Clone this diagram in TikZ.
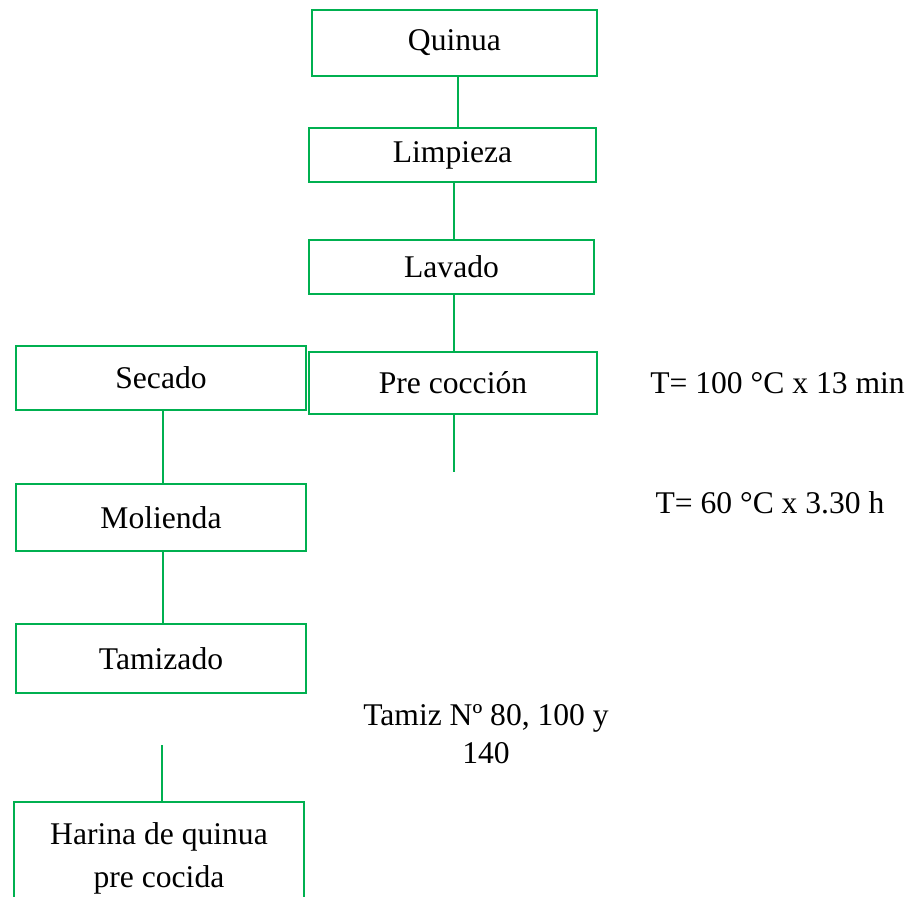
\documentclass[tikz,border=0pt]{standalone}
\usepackage{fontspec}
\setmainfont{Liberation Serif}
\definecolor{boxgreen}{HTML}{00B050}
\begin{document}
\begin{tikzpicture}[x=0.5pt,y=-0.5pt,
  stepbox/.style={draw=boxgreen,line width=1pt,rectangle,inner sep=0pt,
    font=\fontsize{15.8pt}{21.5pt}\selectfont,align=center},
  conn/.style={draw=boxgreen,line width=1pt},
  note/.style={font=\fontsize{15.8pt}{19pt}\selectfont,align=center,inner sep=0pt}]
\useasboundingbox (0,0) rectangle (921,897);
\node[stepbox,minimum width=142.5pt,minimum height=33pt] (q) at (454.5,43) {Quinua};
\node[stepbox,minimum width=143.5pt,minimum height=27pt] (l) at (452.5,155) {Limpieza};
\node[stepbox,minimum width=142.5pt,minimum height=27pt] (v) at (451.5,267) {Lavado};
\node[stepbox,minimum width=144pt,minimum height=31pt] (p) at (453,383) {Pre cocción};
\node[stepbox,minimum width=145pt,minimum height=32pt] (s) at (161,378) {Secado};
\node[stepbox,minimum width=145pt,minimum height=33.5pt] (m) at (161,517.5) {Molienda};
\node[stepbox,minimum width=145pt,minimum height=34.5pt] (t) at (161,658.5) {Tamizado};
\node[stepbox,minimum width=145pt,minimum height=56pt] (h) at (159,858) {Harina de quinua\\pre cocida};
\coordinate (pe) at (454,472);
\coordinate (te) at (162,745);
\draw[conn] ([xshift=1.75pt]q.south) -- ([xshift=2.75pt]l.north);
\draw[conn] ([xshift=0.75pt]l.south) -- ([xshift=1.25pt]v.north);
\draw[conn] ([xshift=1.25pt]v.south) -- ([xshift=0.5pt]p.north);
\draw[conn] ([xshift=0.5pt]p.south) -- (pe);
\draw[conn] ([xshift=0.75pt]s.south) -- ([xshift=0.75pt]m.north);
\draw[conn] ([xshift=0.75pt]m.south) -- ([xshift=0.75pt]t.north);
\draw[conn] (te) -- ([xshift=1.5pt]h.north);
\node[note] (n1) at (777.5,383) {T= 100 °C x 13 min};
\node[note] (n2) at (770,503) {T= 60 °C x 3.30 h};
\node[note] (n3) at (486,734) {Tamiz Nº 80, 100 y\\140};
\end{tikzpicture}
\end{document}
